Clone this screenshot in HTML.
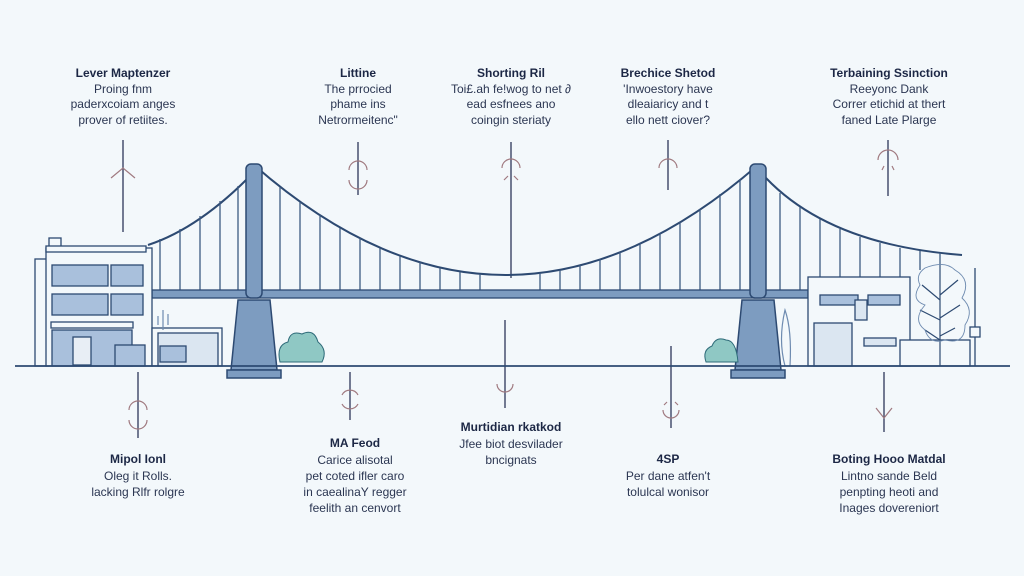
<!DOCTYPE html>
<html><head><meta charset="utf-8"><style>
html,body{margin:0;padding:0;background:#f3f8fb;}
svg{display:block;font-family:"Liberation Sans",sans-serif;}
.h{font-weight:bold;font-size:12px;fill:#1c2745;text-anchor:middle}
.t{font-size:12px;fill:#2b3652;text-anchor:middle}
</style></head><body>
<svg width="1024" height="576" viewBox="0 0 1024 576" xmlns="http://www.w3.org/2000/svg">
<rect width="1024" height="576" fill="#f3f8fb"/>
<!-- top labels -->
<text class="h" x="123" y="77">Lever Maptenzer</text>
<text class="t" x="123" y="93">Proing fnm</text>
<text class="t" x="123" y="108">paderxcoiam anges</text>
<text class="t" x="123" y="124">prover of retiites.</text>
<text class="h" x="358" y="77">Littine</text>
<text class="t" x="358" y="93">The prrocied</text>
<text class="t" x="358" y="108">phame ins</text>
<text class="t" x="358" y="124">Netrormeitenc"</text>
<text class="h" x="511" y="77">Shorting Ril</text>
<text class="t" x="511" y="93">Toi£.ah fe!wog to net ∂</text>
<text class="t" x="511" y="108">ead esfnees ano</text>
<text class="t" x="511" y="124">coingin steriaty</text>
<text class="h" x="668" y="77">Brechice Shetod</text>
<text class="t" x="668" y="93">'Inwoestory have</text>
<text class="t" x="668" y="108">dleaiaricy and t</text>
<text class="t" x="668" y="124">ello nett ciover?</text>
<text class="h" x="889" y="77">Terbaining Ssinction</text>
<text class="t" x="889" y="93">Reeyonc Dank</text>
<text class="t" x="889" y="108">Correr etichid at thert</text>
<text class="t" x="889" y="124">faned Late Plarge</text>
<!-- bottom labels -->
<text class="h" x="138" y="463">Mipol Ionl</text>
<text class="t" x="138" y="480">Oleg it Rolls.</text>
<text class="t" x="138" y="496">lacking Rlfr rolgre</text>
<text class="h" x="355" y="447">MA Feod</text>
<text class="t" x="355" y="464">Carice alisotal</text>
<text class="t" x="355" y="480">pet coted ifler caro</text>
<text class="t" x="355" y="496">in caealinaY regger</text>
<text class="t" x="355" y="512">feelith an cenvort</text>
<text class="h" x="511" y="431">Murtidian rkatkod</text>
<text class="t" x="511" y="448">Jfee biot desvilader</text>
<text class="t" x="511" y="464">bncignats</text>
<text class="h" x="668" y="463">4SP</text>
<text class="t" x="668" y="480">Per dane atfen't</text>
<text class="t" x="668" y="496">tolulcal wonisor</text>
<text class="h" x="889" y="463">Boting Hooo Matdal</text>
<text class="t" x="889" y="480">Lintno sande Beld</text>
<text class="t" x="889" y="496">penpting heoti and</text>
<text class="t" x="889" y="512">Inages dovereniort</text>
<!-- connectors -->
<g stroke="#3b4466" stroke-width="1.4" fill="none">
<line x1="123" y1="140" x2="123" y2="232"/>
<line x1="358" y1="142" x2="358" y2="195"/>
<line x1="511" y1="142" x2="511" y2="278"/>
<line x1="668" y1="140" x2="668" y2="190"/>
<line x1="888" y1="140" x2="888" y2="196"/>
<line x1="138" y1="372" x2="138" y2="438"/>
<line x1="350" y1="372" x2="350" y2="420"/>
<line x1="505" y1="320" x2="505" y2="408"/>
<line x1="671" y1="346" x2="671" y2="428"/>
<line x1="884" y1="372" x2="884" y2="432"/>
</g>
<g stroke="#a07a80" stroke-width="1.2" fill="none">
<path d="M111 178 L123 168 L135 178"/>
<path d="M349 170 A9 9 0 0 1 367 170"/><path d="M349 180 A9 9 0 0 0 367 180"/>
<path d="M502 168 A9 9 0 0 1 520 168"/><path d="M504 180 L508 176 M514 176 L518 180"/>
<path d="M659 168 A9 9 0 0 1 677 168"/>
<path d="M878 160 A10 10 0 0 1 898 160"/><path d="M882 170 L884 166 M892 166 L894 170"/>
<path d="M129 410 A9 9 0 0 1 147 410"/><path d="M129 420 A9 9 0 0 0 147 420"/>
<path d="M342 395 A9 9 0 0 1 358 395"/><path d="M342 404 A9 9 0 0 0 358 404"/>
<path d="M497 384 A8 8 0 0 0 513 384"/>
<path d="M663 410 A8 8 0 0 0 679 410"/><path d="M664 405 L667 402 M675 402 L678 405"/>
<path d="M876 408 L884 418 L892 408"/>
</g>
<!-- cables -->
<g stroke="#2d4a72" stroke-width="2" fill="none">
<path d="M254 165 Q505 385 758 165"/>
<path d="M254 172 Q200 228 148 245"/>
<path d="M766 178 Q830 245 962 255"/>
</g>
<g stroke="#3d5a82" stroke-width="1.3">
<line x1="160" y1="239" x2="160" y2="291"/><line x1="180" y1="229" x2="180" y2="291"/><line x1="200" y1="216" x2="200" y2="291"/><line x1="220" y1="201" x2="220" y2="291"/><line x1="238" y1="186" x2="238" y2="291"/>
<line x1="280" y1="187" x2="280" y2="291"/><line x1="300" y1="202" x2="300" y2="291"/><line x1="320" y1="215" x2="320" y2="291"/><line x1="340" y1="228" x2="340" y2="291"/><line x1="360" y1="238" x2="360" y2="291"/><line x1="380" y1="248" x2="380" y2="291"/><line x1="400" y1="256" x2="400" y2="291"/><line x1="420" y1="262" x2="420" y2="291"/><line x1="440" y1="268" x2="440" y2="291"/><line x1="460" y1="272" x2="460" y2="291"/><line x1="480" y1="274" x2="480" y2="291"/>
<line x1="540" y1="273" x2="540" y2="291"/><line x1="560" y1="270" x2="560" y2="291"/><line x1="580" y1="265" x2="580" y2="291"/><line x1="600" y1="259" x2="600" y2="291"/><line x1="620" y1="252" x2="620" y2="291"/><line x1="640" y1="243" x2="640" y2="291"/><line x1="660" y1="233" x2="660" y2="291"/><line x1="680" y1="222" x2="680" y2="291"/><line x1="700" y1="209" x2="700" y2="291"/><line x1="720" y1="194" x2="720" y2="291"/><line x1="740" y1="179" x2="740" y2="291"/>
<line x1="780" y1="193" x2="780" y2="291"/><line x1="800" y1="207" x2="800" y2="291"/><line x1="820" y1="219" x2="820" y2="280"/><line x1="840" y1="229" x2="840" y2="280"/><line x1="860" y1="237" x2="860" y2="280"/><line x1="880" y1="243" x2="880" y2="280"/><line x1="900" y1="248" x2="900" y2="280"/><line x1="920" y1="251" x2="920" y2="270"/><line x1="940" y1="253" x2="940" y2="270"/>
</g>
<!-- deck -->
<rect x="152" y="290" width="656" height="8" fill="#7d9cc0" stroke="#2d4a72" stroke-width="1.3"/>
<!-- towers -->
<g fill="#7d9cc0" stroke="#2d4a72" stroke-width="1.5">
<rect x="246" y="164" width="16" height="134" rx="5"/>
<rect x="750" y="164" width="16" height="134" rx="5"/>
<path d="M238 300 L270 300 L277 370 L231 370 Z"/>
<rect x="227" y="370" width="54" height="8"/>
<path d="M742 300 L774 300 L781 370 L735 370 Z"/>
<rect x="731" y="370" width="54" height="8"/>
</g>
<!-- left buildings -->
<g stroke="#2d4a72" stroke-width="1.3" fill="#f3f8fb">
<rect x="35" y="259" width="13" height="107"/>
<rect x="46" y="248" width="106" height="118"/>
<rect x="49" y="238" width="12" height="10"/>
<rect x="46" y="246" width="100" height="6"/>
<g fill="#a9c0dc"><rect x="52" y="265" width="56" height="21"/><rect x="111" y="265" width="32" height="21"/><rect x="52" y="294" width="56" height="21"/><rect x="111" y="294" width="32" height="21"/>
<rect x="52" y="330" width="80" height="36"/><rect x="115" y="345" width="30" height="21"/></g>
<rect x="51" y="322" width="82" height="6"/>
<rect x="73" y="337" width="18" height="28" fill="#e8eef5"/>
<rect x="152" y="328" width="70" height="38"/>
<rect x="158" y="333" width="60" height="33" fill="#dbe6f1"/>
<rect x="160" y="346" width="26" height="16" fill="#a9c0dc"/>
</g>
<g fill="#8fc8c4" stroke="#2d6a78" stroke-width="1"><path d="M280 362 Q276 345 288 342 Q290 330 302 334 Q314 328 318 342 Q328 350 322 362 Z"/>
<path d="M706 362 Q702 350 712 346 Q716 336 726 340 Q736 340 738 362 Z"/></g>
<!-- right buildings -->
<g stroke="#2d4a72" stroke-width="1.3" fill="#f3f8fb">
<rect x="808" y="277" width="102" height="89"/>
<rect x="820" y="295" width="38" height="10" fill="#a9c0dc"/><rect x="868" y="295" width="32" height="10" fill="#a9c0dc"/>
<rect x="855" y="300" width="12" height="20" fill="#dbe6f1"/>
<rect x="814" y="323" width="38" height="43" fill="#dbe6f1"/>
<rect x="864" y="338" width="32" height="8" fill="#dbe6f1"/>
<rect x="900" y="340" width="70" height="26"/>
<line x1="975" y1="268" x2="975" y2="366"/>
<rect x="970" y="327" width="10" height="10"/>
</g>
<g stroke="#2d4a72" stroke-width="1.2" fill="none">
<path d="M940 366 L940 270 M940 300 L922 285 M940 295 L958 280 M940 320 L920 310 M940 318 L960 305 M940 340 L925 330 M940 336 L955 328"/>
<path d="M925 268 Q915 275 920 285 Q910 300 925 305 Q912 320 925 330 Q930 345 945 340 Q965 345 965 325 Q975 310 962 298 Q972 280 955 270 Q945 260 925 268 Z" stroke="#6e8bb0" stroke-width="0.9"/>
<path d="M785 366 Q778 340 785 310 Q792 330 790 366" stroke="#6e8bb0"/>
<path d="M163 330 L163 310 M158 325 L158 316 M168 325 L168 314" stroke="#6e8bb0"/>
</g>
<!-- ground -->
<line x1="15" y1="366" x2="1010" y2="366" stroke="#2d4a72" stroke-width="1.8"/>
</svg>
</body></html>
